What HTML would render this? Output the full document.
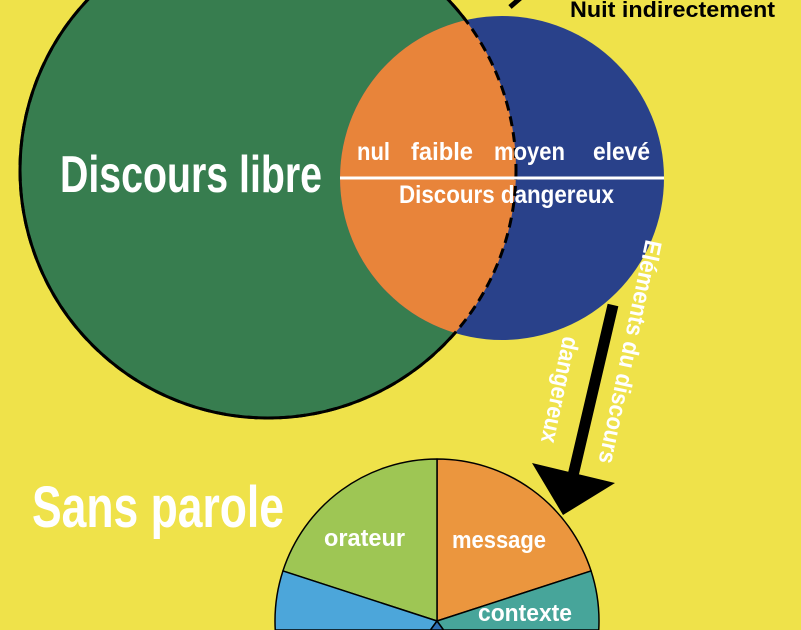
<!DOCTYPE html>
<html><head><meta charset="utf-8"><style>
html,body{margin:0;padding:0;background:#EFE24A;width:801px;height:630px;overflow:hidden;}
svg{display:block;}
text{font-family:"Liberation Sans",sans-serif;font-weight:bold;}
</style></head><body>
<svg width="801" height="630" viewBox="0 0 801 630" xmlns="http://www.w3.org/2000/svg">
<defs>
<clipPath id="g"><circle cx="268" cy="170" r="248"/></clipPath>
</defs>
<rect width="801" height="630" fill="#EFE24A"/>
<circle cx="268" cy="170" r="248" fill="#377D4F" stroke="#000" stroke-width="3"/>
<circle cx="502" cy="178" r="162" fill="#29418A"/>
<circle cx="502" cy="178" r="162" fill="#E8843A" clip-path="url(#g)"/>
<circle cx="268" cy="170" r="248" fill="none" stroke="#000" stroke-width="3" stroke-dasharray="10 6"/>
<line x1="510" y1="7" x2="532" y2="-12" stroke="#000" stroke-width="5"/>
<text x="570" y="17" font-size="22" fill="#000" textLength="205" lengthAdjust="spacingAndGlyphs">Nuit indirectement</text>
<text x="60" y="192" font-size="52" fill="#fff" textLength="262" lengthAdjust="spacingAndGlyphs">Discours libre</text>
<line x1="340" y1="178" x2="664" y2="178" stroke="#fff" stroke-width="3"/>
<text x="357" y="160" font-size="25" fill="#fff" textLength="33" lengthAdjust="spacingAndGlyphs">nul</text>
<text x="411" y="160" font-size="25" fill="#fff" textLength="62" lengthAdjust="spacingAndGlyphs">faible</text>
<text x="494" y="160" font-size="25" fill="#fff" textLength="71" lengthAdjust="spacingAndGlyphs">moyen</text>
<text x="593" y="160" font-size="25" fill="#fff" textLength="57" lengthAdjust="spacingAndGlyphs">elevé</text>
<text x="399" y="203" font-size="25" fill="#fff" textLength="215" lengthAdjust="spacingAndGlyphs">Discours dangereux</text>
<line x1="613" y1="305" x2="572" y2="480" stroke="#000" stroke-width="11"/>
<polygon points="532,463 615,483 563,515" fill="#000"/>
<text transform="translate(630,352) rotate(102)" x="0" y="8" text-anchor="middle" font-size="24" fill="#fff" textLength="228" lengthAdjust="spacingAndGlyphs">Eléments du discours</text>
<text transform="translate(560,390) rotate(102)" x="0" y="8" text-anchor="middle" font-size="24" fill="#fff" textLength="108" lengthAdjust="spacingAndGlyphs">dangereux</text>
<text x="32" y="527" font-size="58" fill="#fff" textLength="252" lengthAdjust="spacingAndGlyphs">Sans parole</text>
<g stroke="#000" stroke-width="1.5" stroke-linejoin="round">
<path d="M437,621 L437,459 A162,162 0 0 1 591.07,570.94 Z" fill="#EB963E"/>
<path d="M437,621 L282.93,570.94 A162,162 0 0 1 437,459 Z" fill="#9EC654"/>
<path d="M437,621 L591.07,570.94 A162,162 0 0 1 598.75,630 L443.5,630 Z" fill="#47A59A"/>
<path d="M437,621 L282.93,570.94 A162,162 0 0 0 275.25,630 L430.5,630 Z" fill="#4CA6DA"/>
<path d="M437,621 L430.5,630 L443.5,630 Z" fill="#2E6FB3"/>
</g>
<text x="324" y="546" font-size="24" fill="#fff" textLength="81" lengthAdjust="spacingAndGlyphs">orateur</text>
<text x="452" y="548" font-size="24" fill="#fff" textLength="94" lengthAdjust="spacingAndGlyphs">message</text>
<text x="478" y="621" font-size="24" fill="#fff" textLength="94" lengthAdjust="spacingAndGlyphs">contexte</text>
</svg>
</body></html>
